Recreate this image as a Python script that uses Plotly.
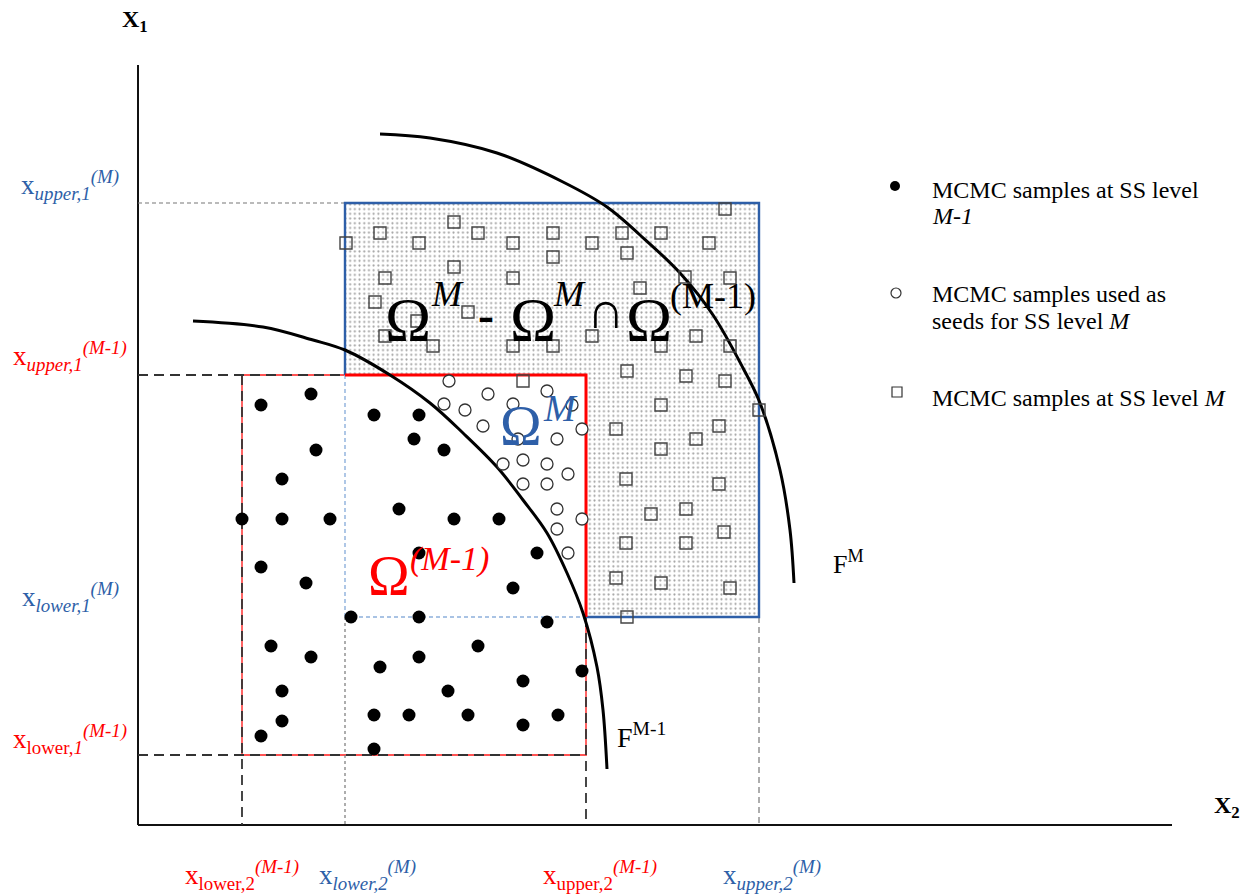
import plotly.graph_objects as go

W, H = 1247, 894
BLUE = "#2e5fa8"
RED = "#ff0000"
SERIF = "Liberation Serif, Times New Roman, serif"

# Diagram frame (x2 to the right, x1 upward; y grows downward on the page)
AXIS_X0, AXIS_Y0 = 138, 825
AXIS_X1, AXIS_Y1 = 1172, 65

# Subset regions
omega_prev = dict(x0=242, x1=586, y0=375, y1=755)   # Omega^(M-1)
omega_m = dict(x0=345, x1=759, y0=203, y1=617)      # Omega^M

# MCMC samples at SS level M-1 (filled dots)
prev_x = [261, 311, 316, 282, 242, 282, 330, 261, 306, 271, 311, 282, 282, 261,
          374, 419, 414, 444, 399, 454, 499, 419, 537, 513, 351, 419, 547, 478,
          419, 380, 582, 523, 448, 374, 409, 468, 558, 523, 374]
prev_y = [405, 394, 450, 479, 519, 519, 519, 567, 583, 646, 657, 691, 721, 736,
          415, 415, 439, 450, 509, 519, 519, 553, 553, 588, 617, 617, 622, 646,
          657, 667, 671, 681, 691, 715, 715, 715, 715, 725, 749]

# Samples used as seeds for SS level M (open circles)
seed_x = [449, 488, 547, 444, 465, 513, 572, 483, 582, 518, 557, 503, 523, 547,
          568, 523, 547, 557, 582, 557, 568]
seed_y = [381, 394, 391, 404, 410, 404, 405, 426, 429, 439, 439, 464, 460, 464,
          474, 484, 484, 509, 519, 529, 553]

# MCMC samples at SS level M (open squares)
lvl_x = [346, 380, 454, 419, 478, 513, 553, 553, 592, 622, 661, 709, 627, 725,
         454, 385, 513, 685, 730, 640, 375, 468, 417, 385, 433, 513, 553, 592,
         661, 696, 730, 627, 686, 725, 523, 661, 759, 616, 719, 696, 661, 626,
         719, 651, 686, 724, 626, 686, 616, 661, 730, 627]
lvl_y = [243, 233, 222, 243, 233, 243, 233, 257, 243, 233, 233, 243, 253, 209,
         267, 278, 278, 277, 278, 288, 302, 312, 321, 336, 346, 346, 346, 336,
         346, 336, 346, 371, 376, 381, 381, 405, 410, 429, 426, 439, 449, 479,
         484, 514, 509, 532, 543, 543, 578, 583, 588, 617]

# Limit-state contours F^(M-1) and F^M
f_prev_x = [193, 263, 313, 345, 390, 430, 463, 497, 523, 547, 567, 583, 597, 603, 607]
f_prev_y = [321, 327, 340, 350, 375, 403, 433, 467, 500, 533, 573, 613, 667, 710, 769]
f_m_x = [380, 430, 497, 563, 607, 640, 680, 713, 743, 760, 780, 790, 794]
f_m_y = [134, 138, 153, 182, 207, 235, 273, 315, 368, 403, 470, 530, 583]

fig = go.Figure()


def seg(xs, ys, color, width, dash="solid", shape="linear"):
    fig.add_trace(go.Scatter(x=xs, y=ys, mode="lines", hoverinfo="skip",
                             line=dict(color=color, width=width, dash=dash,
                                       shape=shape)))


# Dotted region: Omega^M outside Omega^(M-1)
a, b = omega_m, omega_prev
fig.add_trace(go.Scatter(
    x=[a["x0"], a["x1"], a["x1"], b["x1"], b["x1"], a["x0"], a["x0"]],
    y=[a["y0"], a["y0"], a["y1"], a["y1"], b["y0"], b["y0"], a["y0"]],
    mode="lines", fill="toself", line=dict(width=0), hoverinfo="skip",
    fillcolor="rgba(255,255,255,0)",
    fillpattern=dict(shape=".", size=4.7, solidity=0.16, fgcolor="#444444",
                     bgcolor="white")))

# Axes
seg([AXIS_X0, AXIS_X0], [AXIS_Y1, AXIS_Y0], "#111111", 2)
seg([AXIS_X0, AXIS_X1], [AXIS_Y0, AXIS_Y0], "#111111", 2)

# Omega^(M-1) thin outline
seg([b["x0"], b["x1"], b["x1"], b["x0"], b["x0"]],
    [b["y0"], b["y0"], b["y1"], b["y1"], b["y0"]], "rgba(255,40,40,0.8)", 1.8)

# Projection lines of Omega^(M-1) bounds
DK = "#333333"
seg([AXIS_X0, a["x0"]], [b["y0"], b["y0"]], DK, 1.8, "10px,6px")
seg([AXIS_X0, b["x1"]], [b["y1"], b["y1"]], DK, 1.8, "10px,6px")
seg([b["x0"], b["x0"]], [b["y0"], AXIS_Y0], DK, 1.8, "10px,6px")
seg([b["x1"], b["x1"]], [a["y1"], AXIS_Y0], DK, 1.8, "10px,6px")

# Projection lines of Omega^M bounds
GR = "#777777"
seg([AXIS_X0, a["x0"]], [a["y0"], a["y0"]], GR, 1.2, "4px,3px")
seg([a["x0"], a["x0"]], [a["y1"], AXIS_Y0], GR, 1.2, "3px,3px")
seg([a["x1"], a["x1"]], [a["y1"], AXIS_Y0], GR, 1.2, "6px,4px")

# Omega^M edges lying inside Omega^(M-1)
LB = "#8db0dc"
seg([a["x0"], a["x0"]], [b["y0"], a["y1"]], LB, 1.4, "4px,3px")
seg([a["x0"], b["x1"]], [a["y1"], a["y1"]], LB, 1.4, "4px,3px")

# Omega^M outline
seg([a["x0"], a["x0"], a["x1"], a["x1"], b["x1"]],
    [b["y0"], a["y0"], a["y0"], a["y1"], a["y1"]], BLUE, 2.4)

# Omega^(M-1) boundary inside Omega^M
seg([a["x0"], b["x1"], b["x1"]], [b["y0"], b["y0"], a["y1"]], RED, 3)

# Contours
seg(f_prev_x, f_prev_y, "black", 3, shape="spline")
seg(f_m_x, f_m_y, "black", 3, shape="spline")

# Samples
fig.add_trace(go.Scatter(x=lvl_x, y=lvl_y, mode="markers", hoverinfo="skip",
                         marker=dict(symbol="square-open", size=12, color="#444444",
                                     line=dict(width=1.4))))
fig.add_trace(go.Scatter(x=seed_x, y=seed_y, mode="markers", hoverinfo="skip",
                         marker=dict(symbol="circle", size=12, color="white",
                                     line=dict(width=1.3, color="#333333"))))
fig.add_trace(go.Scatter(x=prev_x, y=prev_y, mode="markers", hoverinfo="skip",
                         marker=dict(symbol="circle", size=13, color="black")))

# Key symbols
fig.add_trace(go.Scatter(x=[895], y=[186], mode="markers", hoverinfo="skip",
                         marker=dict(symbol="circle", size=10, color="black")))
fig.add_trace(go.Scatter(x=[896], y=[293], mode="markers", hoverinfo="skip",
                         marker=dict(symbol="circle", size=10, color="white",
                                     line=dict(width=1.2, color="#333333"))))
fig.add_trace(go.Scatter(x=[897], y=[392], mode="markers", hoverinfo="skip",
                         marker=dict(symbol="square-open", size=10, color="#333333",
                                     line=dict(width=1.2))))

ann = []


def txt(x, y, s, size, color="black", xa="left", ya="middle", bold=False, italic=False):
    if italic:
        s = "<i>" + s + "</i>"
    if bold:
        s = "<b>" + s + "</b>"
    ann.append(dict(x=x, y=y, text=s, showarrow=False, xanchor=xa, yanchor=ya,
                    font=dict(family=SERIF, size=size, color=color)))


# Axis titles
txt(135, 21, "X<sub>1</sub>", 24, xa="center", bold=True)
txt(1227, 807, "X<sub>2</sub>", 24, xa="center", bold=True)

# Bound labels on x1
txt(70, 185, "x<sub><i>upper,1</i></sub><sup><i>(M)</i></sup>", 27, BLUE, xa="center")
txt(70, 356, "x<sub><i>upper,1</i></sub><sup><i>(M-1)</i></sup>", 27, RED, xa="center")
txt(70, 597, "x<sub><i>lower,1</i></sub><sup><i>(M)</i></sup>", 27, BLUE, xa="center")
txt(70, 739, "x<sub>lower,<i>1</i></sub><sup><i>(M-1)</i></sup>", 27, RED, xa="center")

# Bound labels on x2
txt(242, 875, "x<sub>lower,2</sub><sup><i>(M-1)</i></sup>", 27, RED, xa="center")
txt(367, 875, "x<sub><i>lower,2</i></sub><sup><i>(M)</i></sup>", 27, BLUE, xa="center")
txt(600, 875, "x<sub>upper,2</sub><sup><i>(M-1)</i></sup>", 27, RED, xa="center")
txt(772, 875, "x<sub><i>upper,2</i></sub><sup><i>(M)</i></sup>", 27, BLUE, xa="center")

# Region symbols: Omega^M - Omega^M ∩ Omega^(M-1)
txt(383, 319, "Ω", 62)
txt(429, 294, "M", 36, italic=True)
txt(476, 314, "-", 48, bold=True)
txt(508, 319, "Ω", 62)
txt(551, 294, "M", 36, italic=True)
txt(585, 310, "∩", 52)
txt(624, 319, "Ω", 62)
txt(668, 296, "(M-1)", 36)

# Omega^M
txt(498, 426, "Ω", 56, BLUE)
txt(541, 408, "M", 38, BLUE, italic=True)

# Omega^(M-1)
txt(366, 576, "Ω", 56, RED)
txt(408, 559, "(M-1)", 34, RED, italic=True)

# Contour labels
txt(831, 562, "F<sup>M</sup>", 26)
txt(615, 735, "F<sup>M-1</sup>", 28)

# Key text
txt(930, 190, "MCMC samples at SS level", 24)
txt(930, 216, "M-1", 24, italic=True)
txt(930, 294, "MCMC samples used as", 24)
txt(930, 321, "seeds for SS level <i>M</i>", 24)
txt(930, 398, "MCMC samples at SS level <i>M</i>", 24)

fig.update_layout(
    width=W, height=H, margin=dict(l=0, r=0, t=0, b=0),
    paper_bgcolor="white", plot_bgcolor="white", showlegend=False,
    xaxis=dict(range=[0, W], visible=False, fixedrange=True),
    yaxis=dict(range=[H, 0], visible=False, fixedrange=True),
    annotations=ann,
)

fig.write_html("out.html", config={"displayModeBar": False})
